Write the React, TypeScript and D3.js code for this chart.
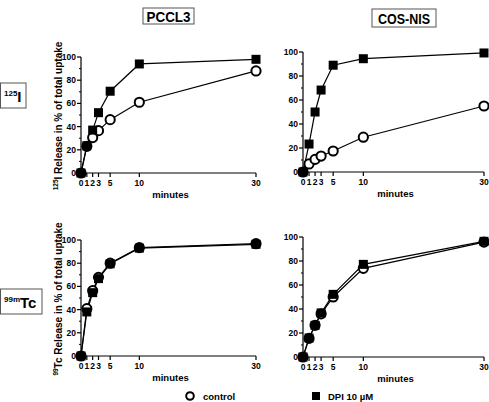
import React from "react";
import * as d3 from "d3";

const minutes = [0, 1, 2, 3, 5, 10, 30];
const xTicks = [0, 1, 2, 3, 5, 10, 30];
const yTicks = [0, 20, 40, 60, 80, 100];
const yMinor = [10, 30, 50, 70, 90];

const pccl3I_control = [0, 23, 30.5, 36.5, 46, 61, 88];
const pccl3I_dpi = [0, 23.5, 37, 52, 70.5, 94, 98];
const cosI_control = [0, 6.7, 10.5, 13.3, 17.5, 29, 55];
const cosI_dpi = [0, 23.3, 50, 68.3, 89, 94.4, 99.2];
const pccl3Tc_control = [0, 40.8, 56.3, 67.8, 80, 93.4, 96.8];
const pccl3Tc_dpi = [0, 38, 54.6, 66.7, 79.5, 93, 96.3];
const cosTc_control = [0, 15.5, 26.4, 36, 50, 73.9, 95.8];
const cosTc_dpi = [0, 15.8, 26.4, 36.7, 52.2, 77.2, 96.4];

const cellLines = ["PCCL3", "COS-NIS"];
const legendLabels = ["control", "DPI 10 µM"];
const xLabel = "minutes";
const yLabelText = " Release in % of total uptake";

const FONT = "'Liberation Sans', Arial, Helvetica, sans-serif";

type PanelProps = {
  left: number; right: number; top: number; bottom: number;
  control: number[]; dpi: number[];
  yLabelSup?: string; yLabelMain?: string; yLabelX?: number;
};

function Panel({ left, right, top, bottom, control, dpi, yLabelSup, yLabelMain, yLabelX }: PanelProps) {
  const x = d3.scaleLinear().domain([0, 30]).range([left, right]);
  const y = d3.scaleLinear().domain([0, 100]).range([bottom, top]);
  const line = d3.line<number>().x((_, i) => x(minutes[i])).y((d) => y(d));
  const sq = 9;
  return (
    <g>
      <line x1={x(0)} x2={x(0)} y1={y(0)} y2={y(100)} stroke="#000" strokeWidth={1.2} />
      <line x1={x(0)} x2={x(30)} y1={y(0)} y2={y(0)} stroke="#000" strokeWidth={1.2} />
      {yTicks.map((t) => (
        <g key={"y" + t}>
          <line x1={x(0) - 4} x2={x(0)} y1={y(t)} y2={y(t)} stroke="#000" strokeWidth={1.2} />
          <text x={x(0) - 5} y={y(t) + 3} textAnchor="end" fontSize={8.5} fontWeight="bold" fontFamily={FONT}>{t}</text>
        </g>
      ))}
      {yMinor.map((t) => (
        <line key={"ym" + t} x1={x(0) - 2} x2={x(0)} y1={y(t)} y2={y(t)} stroke="#000" strokeWidth={1} />
      ))}
      {xTicks.map((t) => (
        <g key={"x" + t}>
          <line x1={x(t)} x2={x(t)} y1={y(0)} y2={y(0) + 4} stroke="#000" strokeWidth={1.2} />
          <text x={x(t)} y={y(0) + 13} textAnchor="middle" fontSize={8.5} fontWeight="bold" fontFamily={FONT}>{t}</text>
        </g>
      ))}
      <text x={(x(0) + x(30)) / 2 + 2} y={y(0) + 25} textAnchor="middle" fontSize={9.5} fontWeight="bold" fontFamily={FONT}>{xLabel}</text>
      {yLabelMain !== undefined && (
        <text transform={`translate(${yLabelX},${(y(0) + y(100)) / 2 + 1}) rotate(-90)`} textAnchor="middle" fontSize={10} fontWeight="bold" fontFamily={FONT}>
          <tspan fontSize={6.5} dy={-4}>{yLabelSup}</tspan>
          <tspan dy={4}>{yLabelMain}</tspan>
          <tspan>{yLabelText}</tspan>
        </text>
      )}
      <path d={line(control) || ""} fill="none" stroke="#000" strokeWidth={1.2} />
      <path d={line(dpi) || ""} fill="none" stroke="#000" strokeWidth={1.2} />
      {control.map((v, i) => (
        <circle key={"c" + i} cx={x(minutes[i])} cy={y(v)} r={4.6} fill="#fff" stroke="#000" strokeWidth={2} />
      ))}
      {dpi.map((v, i) => (
        <rect key={"s" + i} x={x(minutes[i]) - sq / 2} y={y(v) - sq / 2} width={sq} height={sq} fill="#000" />
      ))}
    </g>
  );
}

export default function App() {
  return (
    <div style={{ position: "absolute", left: 0, top: 0 }}>
      <svg width={489} height={402} style={{ display: "block", background: "#fff" }}>
        <rect x={0} y={0} width={489} height={402} fill="#fff" />
        <rect x={143} y={8} width={51} height={16} fill="#fff" stroke="#555" strokeWidth={1} />
        <text x={168.5} y={21.5} textAnchor="middle" fontSize={15} fontWeight="bold" fontFamily={FONT} textLength={44} lengthAdjust="spacingAndGlyphs">{cellLines[0]}</text>
        <rect x={372} y={9} width={64} height={18} fill="#fff" stroke="#555" strokeWidth={1} />
        <text x={404} y={23.5} textAnchor="middle" fontSize={15} fontWeight="bold" fontFamily={FONT} textLength={52} lengthAdjust="spacingAndGlyphs">{cellLines[1]}</text>
        <rect x={0.5} y={83} width={25.5} height={25} fill="#fff" stroke="#555" strokeWidth={1} />
        <text x={4} y={102} fontWeight="bold" fontFamily={FONT}>
          <tspan fontSize={8} dy={-6}>125</tspan>
          <tspan fontSize={15} dy={6}>I</tspan>
        </text>
        <rect x={0.5} y={289} width={41.5} height={25} fill="#fff" stroke="#555" strokeWidth={1} />
        <text x={4} y={308} fontWeight="bold" fontFamily={FONT}>
          <tspan fontSize={8} dy={-6}>99m</tspan>
          <tspan fontSize={15} dy={6}>Tc</tspan>
        </text>

        <Panel left={81} right={256} top={57} bottom={173} control={pccl3I_control} dpi={pccl3I_dpi} yLabelSup="125" yLabelMain="I" yLabelX={62} />
        <Panel left={303} right={484} top={52} bottom={172} control={cosI_control} dpi={cosI_dpi} />
        <Panel left={81} right={256} top={240} bottom={356} control={pccl3Tc_control} dpi={pccl3Tc_dpi} yLabelSup="99" yLabelMain="Tc" yLabelX={62} />
        <Panel left={303} right={484} top={237} bottom={357} control={cosTc_control} dpi={cosTc_dpi} />

        <circle cx={190} cy={396} r={3.8} fill="#fff" stroke="#000" strokeWidth={2} />
        <text x={203} y={399.5} fontSize={9.5} fontWeight="bold" fontFamily={FONT}>{legendLabels[0]}</text>
        <rect x={312} y={392} width={8} height={8} fill="#000" />
        <text x={328} y={399.5} fontSize={9.5} fontWeight="bold" fontFamily={FONT}>{legendLabels[1]}</text>
      </svg>
    </div>
  );
}
